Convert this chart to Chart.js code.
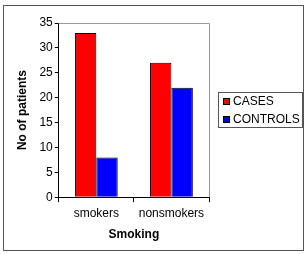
<!DOCTYPE html>
<html>
<head>
<meta charset="utf-8">
<script src="https://cdn.jsdelivr.net/npm/chart.js@4/dist/chart.umd.min.js"></script>
<style>
  html, body { margin: 0; padding: 0; background: #fff; }
  #wrap { width: 307px; height: 254px; }
</style>
</head>
<body>
<div id="wrap"><canvas id="bar-chart" width="307" height="254"></canvas></div>
<script>
/* datos */
const categorias = ["smokers", "nonsmokers"]
const casos = [33, 27]
const controles = [8, 22]
const ticksY = [0, 5, 10, 15, 20, 25, 30, 35]

const fuente = "Liberation Sans"

/* marco exterior, borde del area y leyenda con caja */
const marcos = {
    id: "marcos",
    afterDraw(chart) {
        const ctx = chart.ctx
        const a = chart.chartArea
        ctx.save()
        ctx.strokeStyle = "#555"
        ctx.lineWidth = 1
        ctx.strokeRect(3.5, 5.5, 300, 245)
        ctx.strokeStyle = "#999"
        ctx.beginPath()
        ctx.moveTo(a.left, a.top + 0.5)
        ctx.lineTo(Math.round(a.right) + 0.5, a.top + 0.5)
        ctx.lineTo(Math.round(a.right) + 0.5, a.bottom)
        ctx.stroke()

        /* leyenda */
        const x0 = Math.round(a.right) + 9
        const yc = Math.round((a.top + a.bottom) / 2)
        const alto = 35
        const y0 = yc - 18
        ctx.strokeStyle = "#555"
        ctx.strokeRect(x0 + 0.5, y0 + 0.5, 84, alto)
        ctx.font = "12px '" + fuente + "'"
        ctx.textBaseline = "middle"
        chart.data.datasets.forEach((ds, i) => {
            const cy = y0 + 9 + i * 18
            ctx.fillStyle = ds.backgroundColor
            ctx.fillRect(x0 + 5, cy - 3, 7, 7)
            ctx.strokeStyle = "#000"
            ctx.strokeRect(x0 + 5.5, cy - 2.5, 6, 6)
            ctx.fillStyle = "#000"
            ctx.fillText(ds.label, x0 + 15, cy + 1)
        })
        ctx.restore()
    }
}

const contenedor = document.querySelector("#bar-chart").getContext("2d")

const barChart = new Chart(contenedor, {
    type: "bar",
    data: {
        labels: categorias,
        datasets: [
            {
                label: "CASES",
                data: casos,
                backgroundColor: "#ff0000",
                borderColor: "#000",
                borderWidth: 1,
            },
            {
                label: "CONTROLS",
                data: controles,
                backgroundColor: "#0000ff",
                borderColor: "#000",
                borderWidth: 1,
            },
        ]
    },
    options: {
        responsive: false,
        animation: false,
        layout: { padding: { left: 15, right: 98, top: 23, bottom: 12 } },
        datasets: { bar: { categoryPercentage: 0.57, barPercentage: 1 } },
        plugins: {
            legend: { display: false },
            tooltip: { enabled: false },
        },
        scales: {
            x: {
                grid: { offset: true, drawOnChartArea: false, tickLength: 5, color: "#000" },
                border: { color: "#000" },
                ticks: { color: "#000", font: { family: fuente, size: 12 }, padding: 4 },
                title: { display: true, text: "Smoking", color: "#000", font: { family: fuente, size: 12, weight: "bold" }, padding: { top: 3, bottom: 0 } },
            },
            y: {
                min: 0,
                max: 35,
                afterBuildTicks: axis => { axis.ticks = ticksY.map(v => ({ value: v })) },
                grid: { drawOnChartArea: false, tickLength: 4, color: "#000" },
                border: { color: "#000" },
                ticks: { color: "#000", font: { family: fuente, size: 12 }, padding: 2 },
                title: { display: true, text: "No of patients", color: "#000", font: { family: fuente, size: 12, weight: "bold" }, padding: { top: 0, bottom: 8 } },
            },
        },
    },
    plugins: [marcos],
})
</script>
</body>
</html>
